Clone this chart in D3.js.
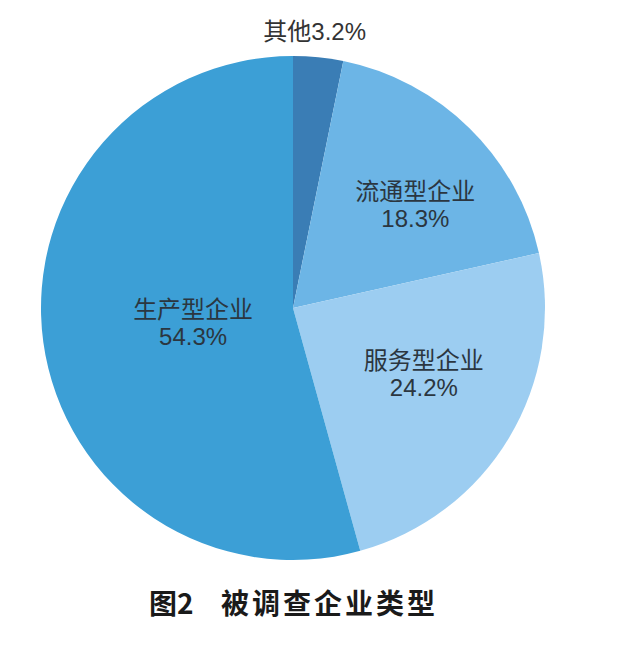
<!DOCTYPE html>
<html>
<head>
<meta charset="utf-8">
<script src="https://cdn.jsdelivr.net/npm/d3@7"></script>
<style>
  html, body { margin: 0; padding: 0; background: #fff; }
  svg { display: block; }
</style>
</head>
<body>
<svg id="chart" width="640" height="648"></svg>
<script>
// Survey enterprise types, clockwise from 12 o'clock
const categories = ['其他', '流通型企业', '服务型企业', '生产型企业'];
const values     = [3.2, 18.3, 24.2, 54.3];
const colors     = ['#3a7db5', '#6cb5e6', '#9ccdf1', '#3c9fd6'];

const svg = d3.select('#chart');
const cx = 293, cy = 308, r = 252;

const pie = d3.pie().sort(null).value(d => d.value);
const arc = d3.arc().innerRadius(0).outerRadius(r);

const data = categories.map((c, i) => ({ name: c, value: values[i], color: colors[i] }));
const arcs = pie(data);

const g = svg.append('g').attr('transform', `translate(${cx},${cy})`);

g.selectAll('path.slice')
  .data(arcs)
  .join('path')
  .attr('class', 'slice')
  .attr('d', arc)
  .attr('fill', d => d.data.color);

const font = '"Liberation Sans", "Noto Sans CJK SC", sans-serif';
const labelColor = '#2b3640';

// Inner labels — radius factor + nudge to sit where the original places them
const inner = [
  null,
  { rf: 0.58, dx: 20, dy: 0 },
  { rf: 0.55, dx: 12, dy: -6 },
  { rf: 0.40, dx: 0, dy: 0 }
];

arcs.forEach((a, i) => {
  const mid = (a.startAngle + a.endAngle) / 2;
  if (i === 0) {
    // small slice: label outside, above the pie
    const x = Math.sin(mid) * (r + 14) - 5;
    const y = -(r + 16);
    g.append('text')
      .attr('x', x).attr('y', y)
      .attr('text-anchor', 'middle')
      .attr('font-family', font).attr('font-size', 24)
      .attr('fill', '#333')
      .text(a.data.name + a.data.value.toFixed(1) + '%');
    return;
  }
  const p = inner[i];
  const x = Math.sin(mid) * r * p.rf + p.dx;
  const y = -Math.cos(mid) * r * p.rf + p.dy;
  const t = g.append('text')
    .attr('text-anchor', 'middle')
    .attr('font-family', font).attr('font-size', 24)
    .attr('fill', labelColor);
  t.append('tspan').attr('x', x).attr('y', y - 4).text(a.data.name);
  t.append('tspan').attr('x', x).attr('y', y + 23).text(a.data.value.toFixed(1) + '%');
});

// Caption
const cap = svg.append('text')
  .attr('y', 614)
  .attr('font-family', '"Noto Sans CJK SC", sans-serif')
  .attr('font-weight', 700).attr('font-size', 28)
  .attr('fill', '#1a1a1a');
cap.append('tspan').attr('x', 149).text('图2');
cap.append('tspan').attr('x', 221).attr('letter-spacing', '3px').text('被调查企业类型');
</script>
</body>
</html>
